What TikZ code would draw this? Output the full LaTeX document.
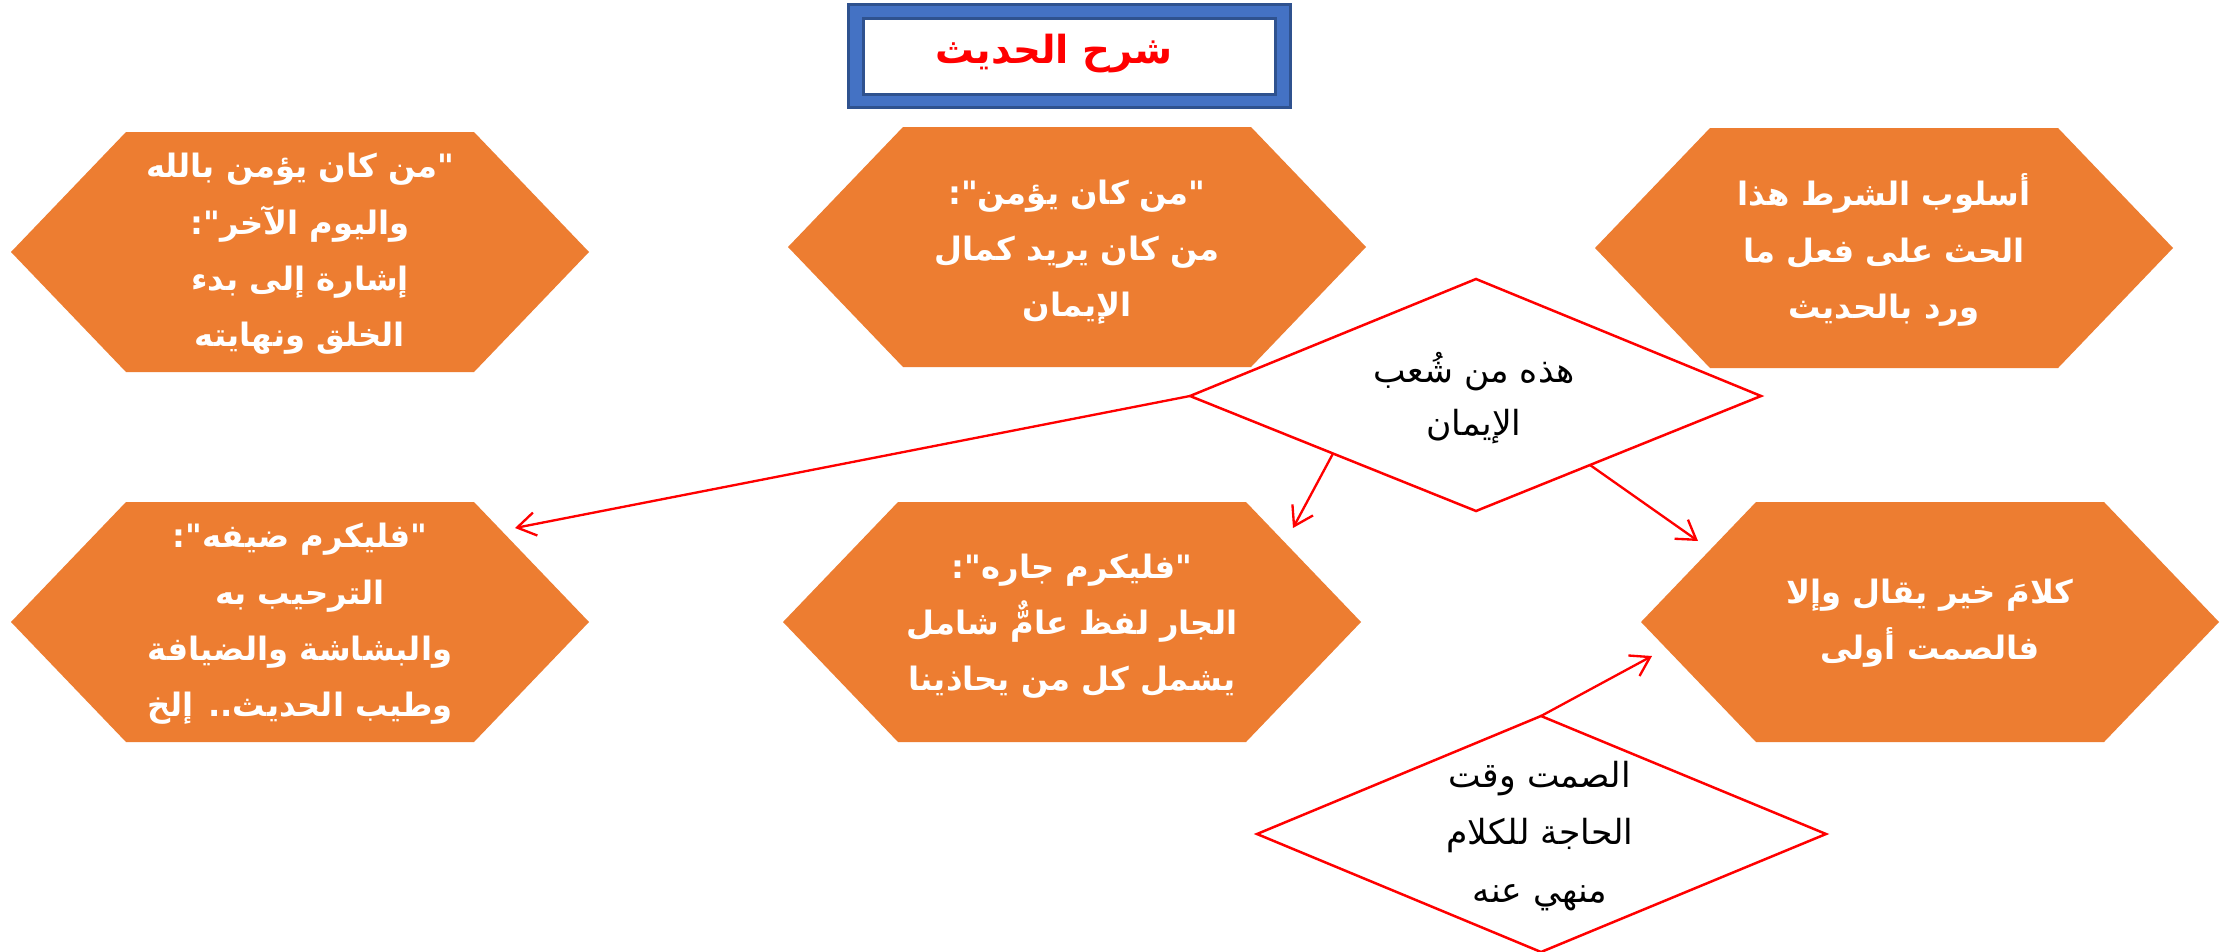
\documentclass[tikz,border=0pt]{standalone}
\usepackage{fontspec}
\usetikzlibrary{arrows.meta,calc}
\TeXXeTstate=1
\newfontfamily\arfont[Script=Arabic]{DejaVu Sans}
\newcommand\artxt[1]{\beginR #1\endR}
\definecolor{hexorange}{HTML}{ED7D31}
\definecolor{titleblue}{HTML}{4472C4}
\definecolor{titledark}{HTML}{2F528F}
\definecolor{linered}{HTML}{FF0000}
\begin{document}
\begin{tikzpicture}[x=0.3mm,y=-0.3mm,
  hextext/.style={text=white,align=center,inner sep=0pt,font={\arfont\bfseries\fontsize{27.5pt}{48pt}\selectfont}},
  dmdline/.style={draw=linered,line width=0.75mm,line join=miter},
  dmdtext/.style={text=black,align=center,inner sep=0pt,font={\arfont\fontsize{29.5pt}{45pt}\selectfont}},
  dmdtextb/.style={dmdtext,font={\arfont\fontsize{29.5pt}{49pt}\selectfont}},
  conn/.style={draw=linered,line width=0.7mm,-{Straight Barb[length=5.5mm,width=7mm,line width=0.7mm]}},
  titletext/.style={text=linered,inner sep=0pt,font={\arfont\bfseries\fontsize{33pt}{40pt}\selectfont}}
]
\useasboundingbox (0,0) rectangle (2226,951);
\fill[white] (0,0) rectangle (2226,951);

% title
\draw[fill=titleblue,draw=titledark,line width=0.9mm] (848,4) rectangle (1290,107);
\draw[fill=white,draw=titledark,line width=0.9mm] (863,18) rectangle (1275,94);
\node[titletext] (title) at (1054,54) {\artxt{شرح الحديث}};

% hexagons
\newcommand\hexat[2]{\fill[hexorange] (#1-289,#2) -- (#1-174,#2-120) -- (#1+174,#2-120) -- (#1+289,#2) -- (#1+174,#2+120) -- (#1-174,#2+120) -- cycle;}
\hexat{300}{252}
\hexat{1077}{247}
\hexat{1884}{248}
\hexat{300}{622}
\hexat{1072}{622}
\hexat{1930}{622}

\node[hextext] (tl) at (300,254) {\artxt{"من كان يؤمن بالله}\\\artxt{واليوم الآخر":}\\\artxt{إشارة إلى بدء}\\\artxt{الخلق ونهايته}};
\node[hextext] (tm) at (1077,252) {\artxt{"من كان يؤمن":}\\\artxt{من كان يريد كمال}\\\artxt{الإيمان}};
\node[hextext] (tr) at (1884,250) {\artxt{أسلوب الشرط هذا}\\\artxt{الحث على فعل ما}\\\artxt{ورد بالحديث}};
\node[hextext] (ml) at (300,624) {\artxt{"فليكرم ضيفه":}\\\artxt{الترحيب به}\\\artxt{والبشاشة والضيافة}\\\artxt{وطيب الحديث.. إلخ}};
\node[hextext] (mm) at (1072,626) {\artxt{"فليكرم جاره":}\\\artxt{الجار لفظ عامٌّ شامل}\\\artxt{يشمل كل من يحاذينا}};
\node[hextext] (mr) at (1930,623) {\artxt{كلامَ خير يقال وإلا}\\\artxt{فالصمت أولى}};

% diamond 1
\coordinate (d1W) at (1190,396);
\coordinate (d1N) at (1476,279);
\coordinate (d1E) at (1761,396);
\coordinate (d1S) at (1476,511);
\fill[white] (d1W) -- (d1N) -- (d1E) -- (d1S) -- cycle;
\draw[dmdline] (d1W) -- (d1N) -- (d1E) -- (d1S) -- cycle;
\node[dmdtext] (d1) at (1474,398) {\artxt{هذه من شُعب}\\\artxt{الإيمان}};

% diamond 2
\coordinate (d2W) at (1257,834);
\coordinate (d2N) at (1541,716);
\coordinate (d2E) at (1826,834);
\coordinate (d2S) at (1541,952);
\fill[white] (d2W) -- (d2N) -- (d2E) -- (d2S) -- cycle;
\draw[dmdline] (d2W) -- (d2N) -- (d2E) -- (d2S) -- cycle;
\node[dmdtextb] (d2) at (1540,836) {\artxt{الصمت وقت}\\\artxt{الحاجة للكلام}\\\artxt{منهي عنه}};

% connectors
\coordinate (t1) at (515,528);
\coordinate (t2) at (1293,528);
\coordinate (t3) at (1698,541);
\coordinate (t4) at (1652,656);
\draw[conn] (d1W) -- (t1);
\draw[conn] ($(d1W)!0.5!(d1S)$) -- (t2);
\draw[conn] ($(d1S)!0.4!(d1E)$) -- (t3);
\draw[conn] (d2N) -- (t4);
\end{tikzpicture}
\end{document}
